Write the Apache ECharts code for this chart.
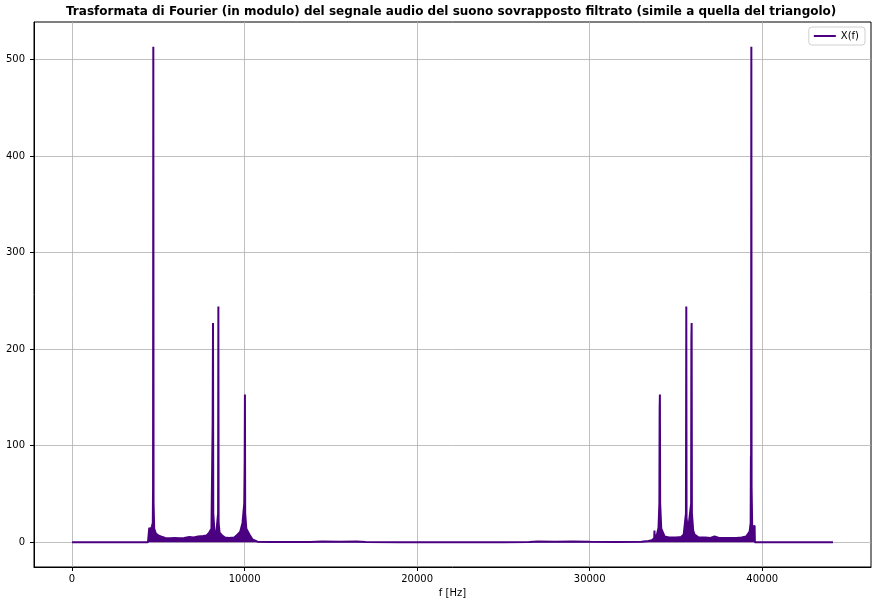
<!DOCTYPE html>
<html>
<head>
<meta charset="utf-8">
<script src="https://cdn.jsdelivr.net/npm/echarts@6/dist/echarts.min.js"></script>
<style>
html,body{margin:0;padding:0;background:#fff;}
#chart{width:877px;height:604px;}
</style>
</head>
<body>
<div id="chart"></div>
<script>
// Frequencies (Hz) and |X(f)|
const freqLow = [0, 4400, 4460, 4475, 4550, 4620, 4680, 4695, 4710, 4725, 4760, 4860, 5000, 5150, 5400, 5700, 5950, 6200, 6500, 6800, 6900, 7050, 7300, 7600, 7800, 7950, 8080, 8150, 8170, 8185, 8250, 8350, 8420, 8465, 8480, 8495, 8550, 8700, 8850, 9100, 9400, 9600, 9750, 9880, 9980, 10005, 10020, 10035, 10100, 10200, 10280, 10360, 10450, 10550, 10750, 11500, 13800, 14500, 15500, 16500, 17000, 19000, 20000];
const magLow  = [0, 0, 0, 15, 12, 16, 20, 57, 513, 40, 14, 9, 7, 6, 4.5, 4, 4.5, 4, 4.5, 5.5, 6, 5, 6, 6.5, 7, 10, 14, 125, 227, 30, 12, 8, 10, 30, 244, 20, 10, 7, 5, 4.5, 5, 8, 11, 20, 40, 84, 153, 30, 14, 12, 8, 6, 3, 1.5, 0.6, 0.3, 0.2, 0.8, 0.5, 0.8, 0.2, 0.1, 0];
const freqHigh = [25000, 26500, 27000, 28000, 29000, 30000, 31500, 33000, 33400, 33600, 33740, 33755, 33770, 33900, 33990, 34040, 34055, 34070, 34085, 34150, 34250, 34340, 34600, 35000, 35300, 35450, 35540, 35580, 35600, 35615, 35700, 35800, 35880, 35895, 35910, 35925, 36000, 36080, 36300, 36700, 37000, 37240, 37500, 38000, 38500, 38800, 39080, 39270, 39330, 39345, 39355, 39370, 39385, 39420, 39500, 39560, 39575, 39650, 44100];
const magHigh  = [0, 0.3, 0.8, 0.5, 0.8, 0.4, 0.3, 0.6, 1.2, 2, 4, 12, 5, 8, 15, 40, 137, 153, 40, 14, 10, 6, 5, 5, 5.5, 8, 10, 30, 244, 25, 12, 10, 40, 210, 227, 30, 12, 8, 5, 5, 4.5, 6, 4.5, 4.5, 4.5, 5, 6, 11, 20, 89, 57, 513, 57, 16, 15, 17, 0, 0, 0];

const xTicks = [0, 10000, 20000, 30000, 40000];
const yTicks = [0, 100, 200, 300, 400, 500];

const seriesData = [];
freqLow.forEach((f, i) => seriesData.push([f, magLow[i]]));
freqHigh.forEach((f, i) => seriesData.push([f, magHigh[i]]));

const LINE = '#4b0082';
const FONT = 'DejaVu Sans';

const chart = echarts.init(document.getElementById('chart'), null, {renderer: 'canvas'});
chart.setOption({
  animation: false,
  backgroundColor: '#ffffff',
  textStyle: {fontFamily: FONT},
  title: {
    text: 'Trasformata di Fourier (in modulo) del segnale audio del suono sovrapposto filtrato (simile a quella del triangolo)',
    left: 66,
    top: 6,
    padding: 0,
    textStyle: {fontFamily: FONT, fontSize: 12, fontWeight: 'bold', color: '#000'}
  },
  legend: {
    right: 12,
    top: 27,
    data: ['X(f)'],
    icon: 'rect',
    itemWidth: 22,
    itemHeight: 2,
    itemGap: 6,
    padding: [4, 6, 4, 5],
    borderColor: '#d0d0d0',
    borderWidth: 1,
    borderRadius: 3,
    backgroundColor: 'rgba(255,255,255,0.8)',
    textStyle: {fontFamily: FONT, fontSize: 10, color: '#000'}
  },
  grid: {
    left: 34, right: 6, top: 22, bottom: 37,
    show: true, borderColor: '#000', borderWidth: 1,
    containLabel: false
  },
  xAxis: {
    type: 'value',
    min: -2205,
    max: 46305,
    name: 'f [Hz]',
    nameLocation: 'middle',
    nameGap: 20,
    nameTextStyle: {fontFamily: FONT, fontSize: 10, color: '#000'},
    axisLine: {show: true, onZero: false, lineStyle: {color: '#000', width: 1}},
    axisTick: {show: true, inside: false, length: 4, customValues: xTicks, lineStyle: {color: '#000', width: 1}},
    axisLabel: {show: true, margin: 7, customValues: xTicks, fontFamily: FONT, fontSize: 10, color: '#000',
      formatter: v => (xTicks.indexOf(v) >= 0 ? String(v) : '')},
    splitLine: {show: true, lineStyle: {color: '#b0b0b0', width: 0.8}}
  },
  yAxis: {
    type: 'value',
    min: -25.65,
    max: 538.65,
    axisLine: {show: true, onZero: false, lineStyle: {color: '#000', width: 1}},
    axisTick: {show: true, inside: false, length: 4, customValues: yTicks, lineStyle: {color: '#000', width: 1}},
    axisLabel: {show: true, margin: 9, customValues: yTicks, fontFamily: FONT, fontSize: 10, color: '#000',
      formatter: v => (yTicks.indexOf(v) >= 0 ? String(v) : '')},
    splitLine: {show: true, lineStyle: {color: '#b0b0b0', width: 0.8}}
  },
  series: [{
    name: 'X(f)',
    type: 'line',
    data: seriesData,
    showSymbol: false,
    symbol: 'none',
    lineStyle: {color: LINE, width: 2},
    itemStyle: {color: LINE},
    areaStyle: {color: LINE, opacity: 1, origin: 0},
    connectNulls: false
  }]
});
</script>
</body>
</html>
